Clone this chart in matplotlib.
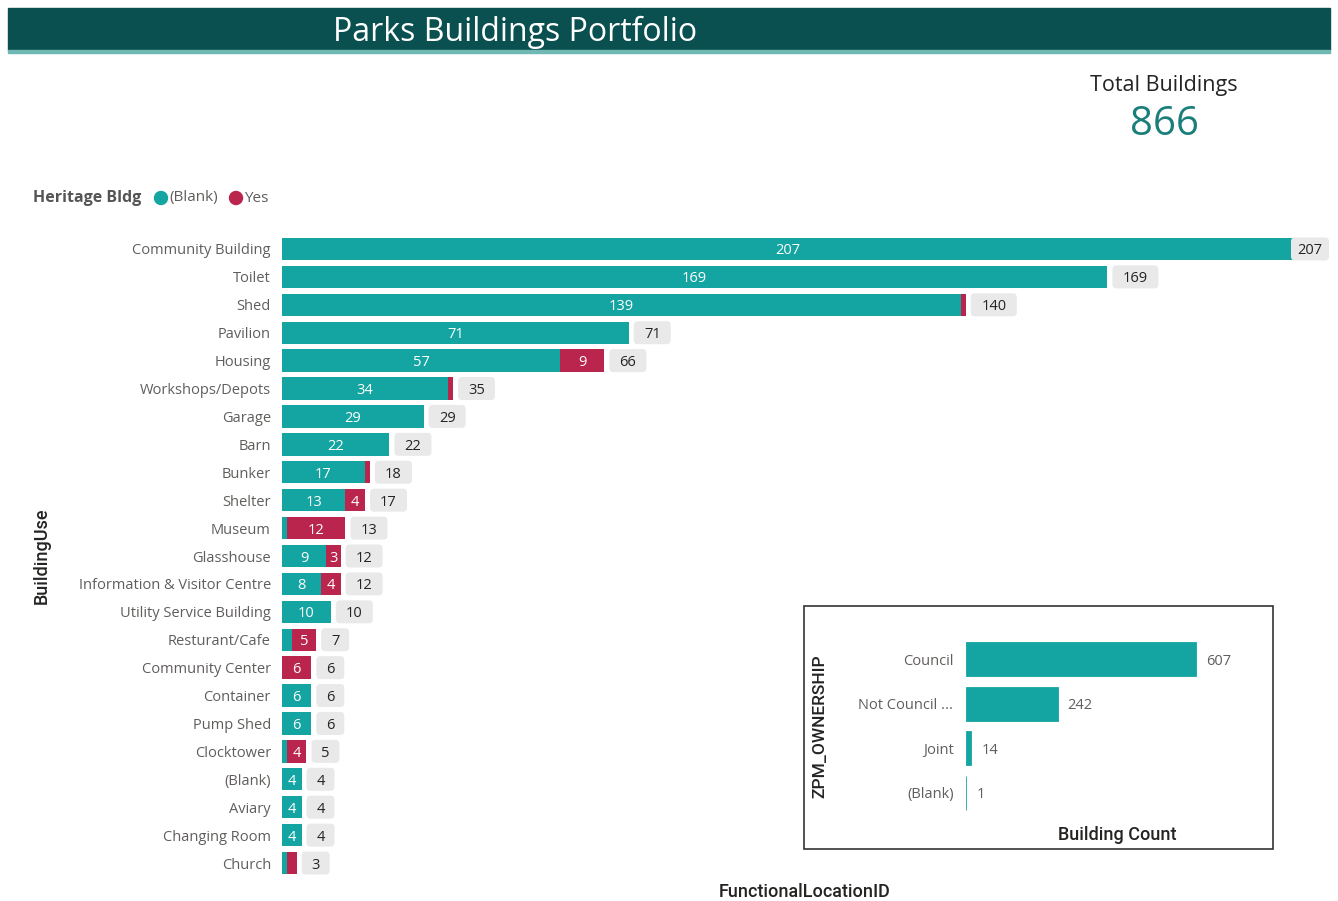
import matplotlib.pyplot as plt
from matplotlib.patches import Rectangle, Ellipse, FancyBboxPatch
from matplotlib import transforms

# ---------------------------
# Data
# ---------------------------
building_use = [
    "Community Building", "Toilet", "Shed", "Pavilion", "Housing",
    "Workshops/Depots", "Garage", "Barn", "Bunker", "Shelter", "Museum",
    "Glasshouse", "Information & Visitor Centre", "Utility Service Building",
    "Resturant/Cafe", "Community Center", "Container", "Pump Shed",
    "Clocktower", "(Blank)", "Aviary", "Changing Room", "Church",
]
heritage_blank = [207, 169, 139, 71, 57, 34, 29, 22, 17, 13, 1, 9, 8, 10,
                  2, 0, 6, 6, 1, 4, 4, 4, 1]
heritage_yes = [0, 0, 1, 0, 9, 1, 0, 0, 1, 4, 12, 3, 4, 0,
                5, 6, 0, 0, 4, 0, 0, 0, 2]

ownership = ["Council", "Not Council ...", "Joint", "(Blank)"]
ownership_count = [607, 242, 14, 1]

total_buildings = 866

# ---------------------------
# Styles
# ---------------------------
TEAL = "#14a5a2"
RED = "#b9254c"
HEADER = "#0a5050"
LABEL_GREY = "#605e5c"
DARK = "#252423"
FONT = "Open Sans"

W, H = 1338, 901
fig = plt.figure(figsize=(W / 100, H / 100), dpi=100)
plt.rcParams["font.family"] = [FONT, "DejaVu Sans"]


def fx(px):
    return px / W


def fy(py):
    return 1 - py / H


def add_axes_px(left, top, right, bottom):
    return fig.add_axes([fx(left), fy(bottom), fx(right - left), (bottom - top) / H])


# ---------------------------
# Header band
# ---------------------------
fig.patches.append(Rectangle((fx(8), fy(50)), fx(1322), 42 / H,
                             transform=fig.transFigure, color=HEADER, zorder=0))
fig.patches.append(Rectangle((fx(8), fy(53)), fx(1322), 3 / H,
                             transform=fig.transFigure, color="#6fb8b3", zorder=0))
fig.text(fx(515), fy(32), "Parks Buildings Portfolio", color="white",
         fontsize=23, ha="center", va="center")

# KPI card
fig.text(fx(1164), fy(86), "Total Buildings", color=DARK, fontsize=15.5,
         ha="center", va="center")
fig.text(fx(1164), fy(125), f"{total_buildings}", color="#1a7f7a", fontsize=29,
         ha="center", va="center")

# Legend
fig.text(fx(33), fy(198), "Heritage Bldg", color="#555555", fontsize=11.5,
         fontweight="bold", ha="left", va="center")
for cx, col, lbl in [(161, TEAL, "(Blank)"), (236, RED, "Yes")]:
    fig.patches.append(Ellipse((fx(cx), fy(198)), 13 / W, 13 / H,
                               transform=fig.transFigure, color=col))
    fig.text(fx(cx + 8), fy(198), lbl, color=LABEL_GREY, fontsize=11,
             ha="left", va="center")

# ---------------------------
# Main stacked bar chart
# ---------------------------
px_per_unit = 1011 / 207
ax_left, ax_right = 282, 1330
axis_w = ax_right - ax_left
ax = add_axes_px(ax_left, 235, ax_right, 877)
ypos = list(range(len(building_use)))
ax.barh(ypos, heritage_blank, height=0.8, color=TEAL, edgecolor="none")
ax.barh(ypos, heritage_yes, left=heritage_blank, height=0.8, color=RED,
        edgecolor="none")
ax.set_xlim(0, axis_w / px_per_unit)
ax.set_ylim(len(building_use) - 0.5, -0.5)
ax.set_yticks(ypos)
ax.set_yticklabels(building_use, fontsize=10.5, color=LABEL_GREY)
ax.tick_params(axis="y", length=0, pad=8)
ax.set_xticks([])
for s in ax.spines.values():
    s.set_visible(False)

for i, (b, y) in enumerate(zip(heritage_blank, heritage_yes)):
    if b >= 3:
        ax.text(b / 2, i, str(b), color="white", fontsize=10.5,
                ha="center", va="center_baseline")
    if y >= 3:
        ax.text(b + y / 2, i, str(y), color="white", fontsize=10.5,
                ha="center", va="center_baseline")

    # grey total badge just past the end of the bar (pixel units)
    total = b + y
    end_px = total * px_per_unit
    box_w = 19 + 9 * len(str(total))
    start = end_px + 5
    if start + box_w > axis_w:
        # no room left: squeeze the badge against the right edge
        start = end_px - 2
        box_w = axis_w - start - 1
    trans = fig.dpi_scale_trans + transforms.ScaledTranslation(0, i, ax.transData)
    badge = FancyBboxPatch((start / 100, -11.5 / 100), box_w / 100, 23 / 100,
                           boxstyle="round,pad=0,rounding_size=0.04",
                           facecolor="#e9e9e9", edgecolor="none",
                           transform=trans, zorder=3)
    ax.add_patch(badge)
    ax.text((start + box_w / 2) / 100, 0, str(total), transform=trans,
            ha="center", va="center_baseline", fontsize=10.5, color=DARK,
            zorder=4)

fig.text(fx(42), fy(556), "BuildingUse", rotation=90, color=DARK, fontsize=13,
         ha="center", va="center", family="Roboto", fontweight="medium")
fig.text(fx(805), fy(892), "FunctionalLocationID", color=DARK, fontsize=13,
         ha="center", va="center", family="Roboto", fontweight="medium")

# ---------------------------
# Ownership inset
# ---------------------------
fig.patches.append(Rectangle((fx(804), fy(849)), fx(469), 243 / H,
                             transform=fig.transFigure, facecolor="white",
                             edgecolor="#333333", linewidth=1.2, zorder=2))
ax2 = add_axes_px(966, 637, 1250, 815)
ax2.set_zorder(3)
ax2.patch.set_visible(False)
opos = list(range(len(ownership)))
ax2.barh(opos, ownership_count, height=0.76, color=TEAL, edgecolor=TEAL,
         linewidth=0.6)
ax2.set_xlim(0, 284 / (230 / 607))
ax2.set_ylim(len(ownership) - 0.5, -0.5)
ax2.set_yticks(opos)
ax2.set_yticklabels(ownership, fontsize=10.5, color=LABEL_GREY)
ax2.tick_params(axis="y", length=0, pad=9)
ax2.set_xticks([])
for s in ax2.spines.values():
    s.set_visible(False)
for i, v in enumerate(ownership_count):
    ax2.annotate(str(v), xy=(v, i), xytext=(10, 0), textcoords="offset pixels",
                 ha="left", va="center_baseline", fontsize=10.5, color=LABEL_GREY)

fig.text(fx(820), fy(726), "ZPM_OWNERSHIP", rotation=90, color=DARK,
         fontsize=12.5, ha="center", va="center", family="Roboto",
         fontweight="medium", zorder=4)
fig.text(fx(1117), fy(835), "Building Count", color=DARK, fontsize=13,
         ha="center", va="center", family="Roboto", fontweight="medium",
         zorder=4)

fig.savefig("out.png", dpi=100)
